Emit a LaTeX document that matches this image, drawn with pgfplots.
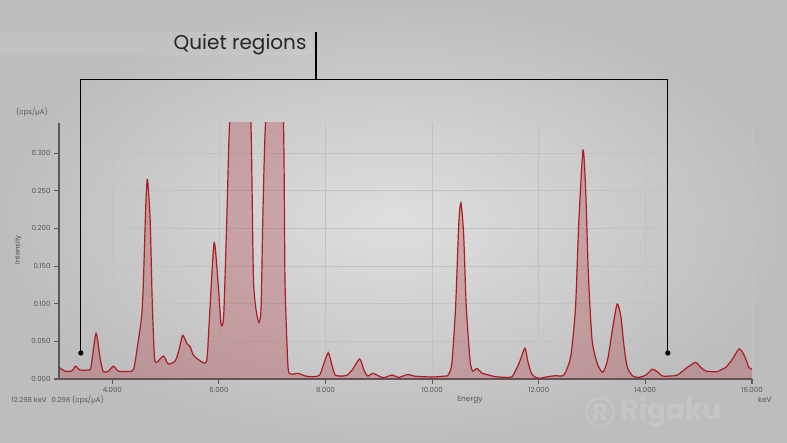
\documentclass[border=0pt]{standalone}
\usepackage{pgfplots}
\pgfplotsset{compat=1.18}
\usepackage{pgfplotstable}
\usepackage{fontspec}
\setmainfont{Poppins}
\definecolor{bgin}{HTML}{DFDFDF}
\definecolor{bgout}{HTML}{BDBDBF}
\definecolor{spec}{HTML}{A81E22}
\definecolor{specfill}{HTML}{B02A30}
\definecolor{axgray}{HTML}{5A5A5A}
\definecolor{txtgray}{HTML}{555555}

\pgfplotstableread{
x y
3.00 0.0155
3.11 0.0106
3.24 0.0106
3.31 0.017
3.39 0.012
3.55 0.012
3.60 0.0155
3.695 0.0607
3.77 0.028
3.83 0.0097
3.93 0.0106
4.02 0.017
4.11 0.0106
4.30 0.010
4.40 0.013
4.48 0.047
4.55 0.083
4.58 0.122
4.63 0.234
4.66 0.265
4.71 0.211
4.75 0.100
4.79 0.030
4.83 0.022
4.96 0.0305
5.05 0.020
5.18 0.024
5.25 0.0385
5.32 0.058
5.40 0.047
5.46 0.043
5.52 0.032
5.65 0.024
5.77 0.024
5.82 0.078
5.91 0.181
5.99 0.122
6.04 0.073
6.09 0.085
6.15 0.218
6.20 0.34
6.30 0.42
6.40 0.45
6.50 0.42
6.60 0.34
6.65 0.129
6.74 0.076
6.79 0.094
6.825 0.218
6.875 0.34
7.00 0.40
7.10 0.40
7.21 0.34
7.24 0.129
7.29 0.023
7.32 0.0075
7.40 0.0066
7.49 0.0075
7.62 0.004
7.78 0.003
7.89 0.0053
7.96 0.0186
8.05 0.035
8.12 0.0186
8.18 0.0053
8.31 0.004
8.40 0.005
8.50 0.012
8.64 0.0266
8.72 0.012
8.79 0.004
8.89 0.0075
9.00 0.004
9.09 0.0017
9.25 0.0053
9.37 0.002
9.54 0.006
9.65 0.004
9.84 0.003
10.03 0.0027
10.25 0.004
10.30 0.005
10.37 0.021
10.44 0.096
10.50 0.207
10.54 0.234
10.59 0.193
10.64 0.096
10.71 0.025
10.76 0.0106
10.84 0.014
10.94 0.0075
11.06 0.0053
11.19 0.003
11.375 0.0022
11.50 0.003
11.63 0.021
11.74 0.041
11.79 0.025
11.86 0.0075
11.94 0.0022
12.03 0.001
12.16 0.003
12.31 0.0044
12.47 0.0053
12.60 0.030
12.69 0.096
12.75 0.207
12.83 0.304
12.88 0.251
12.93 0.140
13.00 0.052
13.10 0.020
13.20 0.009
13.29 0.025
13.38 0.065
13.47 0.0996
13.54 0.083
13.60 0.043
13.66 0.016
13.76 0.004
13.88 0.0022
14.01 0.0053
14.13 0.013
14.22 0.0097
14.32 0.004
14.47 0.004
14.60 0.0053
14.79 0.0155
14.94 0.022
15.04 0.0155
15.13 0.0106
15.26 0.0097
15.35 0.0097
15.41 0.012
15.51 0.0155
15.63 0.026
15.76 0.040
15.86 0.0305
15.94 0.0155
16.00 0.013
}\spectrum

\begin{document}
\begin{tikzpicture}[x=1pt,y=1pt]
\useasboundingbox (0,0) rectangle (787,443);
\shade[inner color=bgin, outer color=bgout] (0,0) rectangle (787,443);
\fill[white, opacity=0.08] (0,388) rectangle (313,411);
% watermark
\draw[white, opacity=0.13, line width=2pt] (600,31) circle (14);
\node[white, opacity=0.13, font=\fontsize{24}{26}\selectfont\bfseries] at (600,31) {R};
\node[white, opacity=0.13, font=\fontsize{28}{30}\selectfont\bfseries, anchor=west] at (617,31) {Rigaku};
\begin{axis}[
  at={(59pt,64pt)}, anchor=south west,
  scale only axis, width=693pt, height=256pt,
  xmin=3, xmax=16, ymin=0, ymax=0.34,
  axis x line=bottom, axis y line=left,
  axis line style={-, axgray, line width=1.3pt},
  xtick={4,6,...,16}, ytick={0,0.05,...,0.31},
  tick align=outside, major tick length=5pt,
  tick style={axgray, line width=1.1pt},
  grid=major, major grid style={black!24, line width=0.7pt},
  xticklabel={\pgfmathprintnumber[fixed,fixed zerofill,precision=3,assume math mode=true]{\tick}},
  yticklabel={\pgfmathprintnumber[fixed,fixed zerofill,precision=3,assume math mode=true]{\tick}},
  ticklabel style={font=\fontsize{7}{8}\selectfont, text=txtgray},
  clip=true,
]
\addplot[draw=none, fill=specfill, fill opacity=0.28, smooth, tension=0.4] table[x=x,y=y] {\spectrum} \closedcycle;
\addplot[spec, line width=1.2pt, smooth, tension=0.4] table[x=x,y=y] {\spectrum};
\coordinate (Ld) at (3.41,0.0345);
\coordinate (Rd) at (14.42,0.0345);
\coordinate (Top) at (9,0.398);
\end{axis}
\draw[black, line width=1.1pt] (Ld) -- (Ld |- Top) -- (Rd |- Top) -- (Rd);
\fill[black] (Ld) circle (2.6);
\fill[black] (Rd) circle (2.6);
\draw[black, line width=1.1pt] (316,364) -- (316,411);
\node[anchor=east, font=\fontsize{20}{22}\selectfont, text=black!85] at (310,398) {Quiet regions};
% labels
\node[font=\fontsize{7}{8}\selectfont, text=txtgray] at (32,331) {(cps/µA)};
\node[font=\fontsize{7}{8}\selectfont, text=txtgray, rotate=90] at (18,193) {Intensity};
\node[font=\fontsize{7.5}{8}\selectfont, text=txtgray] at (470,43) {Energy};
\node[font=\fontsize{7.5}{8}\selectfont, text=txtgray] at (765,43) {keV};
\node[font=\fontsize{7}{8}\selectfont, text=txtgray, anchor=west] at (8,43) {12.298 keV\hspace{0.7em}0.298 (cps/µA)};
\end{tikzpicture}
\end{document}
